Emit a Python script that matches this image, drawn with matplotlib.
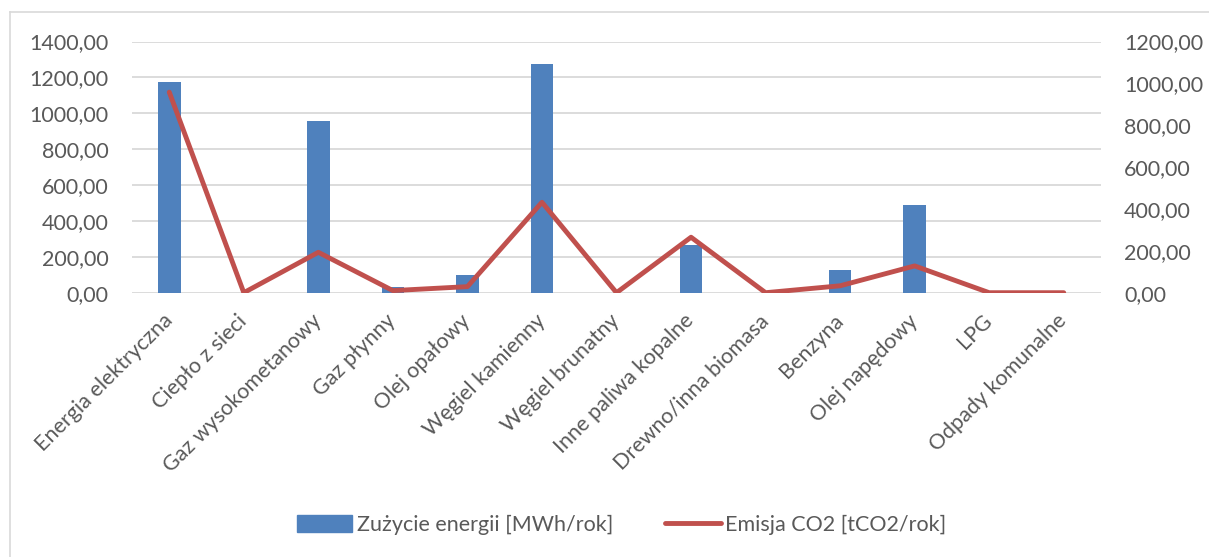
import numpy as np
import matplotlib
matplotlib.use("Agg")
import matplotlib.pyplot as plt
from matplotlib.ticker import FuncFormatter, MultipleLocator
from matplotlib.lines import Line2D

plt.rcParams['font.family'] = ['Lato', 'DejaVu Sans']

# Data
categories = ["Energia elektryczna", "Ciepło z sieci", "Gaz wysokometanowy", "Gaz płynny",
              "Olej opałowy", "Węgiel kamienny", "Węgiel brunatny", "Inne paliwa kopalne",
              "Drewno/inna biomasa", "Benzyna", "Olej napędowy", "LPG", "Odpady komunalne"]
energy = [1176, 0, 958, 33, 97, 1275, 0, 266, 0, 125, 489, 0, 0]      # MWh/rok
emission = [958, 0, 193, 10, 29, 432, 0, 265, 0, 33, 128, 0, 0]      # tCO2/rok

bar_label = "Zużycie energii [MWh/rok]"
line_label = "Emisja CO2 [tCO2/rok]"

blue = "#4F81BD"
red = "#C0504D"
grid = "#D9D9D9"
txt = "#595959"
fs = 15.5

def comma(v, pos):
    return ("%.2f" % v).replace(".", ",")

fig = plt.figure(figsize=(12.09, 5.57), dpi=100)
ax = fig.add_axes([132/1209, 1-292.7/557, 969/1209, 251.2/557])
x = np.arange(len(categories))

ax.bar(x, energy, width=0.305, color=blue, zorder=2)
ax.set_xlim(-0.5, len(categories)-0.5)
ax.set_ylim(0, 1400)
ax.yaxis.set_major_locator(MultipleLocator(200))
ax.yaxis.set_major_formatter(FuncFormatter(comma))
ax.grid(axis='y', color=grid, linewidth=1.3, zorder=0)
ax.set_axisbelow(True)
ax.set_xticks(x)
ax.set_xticklabels(categories, rotation=45, ha='right', rotation_mode='anchor', va='center')
ax.tick_params(axis='both', length=0, labelsize=fs, labelcolor=txt)
ax.tick_params(axis='x', pad=18)
ax.tick_params(axis='y', pad=17)
for s in ax.spines.values():
    s.set_visible(False)

ax2 = ax.twinx()
ax2.plot(x, emission, color=red, linewidth=3.5, solid_capstyle='round', solid_joinstyle='round')
ax2.set_ylim(0, 1200)
ax2.yaxis.set_major_locator(MultipleLocator(200))
ax2.yaxis.set_major_formatter(FuncFormatter(comma))
ax2.tick_params(axis='y', length=0, labelsize=fs, labelcolor=txt, pad=16.5)
for s in ax2.spines.values():
    s.set_visible(False)

# legend
handles = [plt.Rectangle((0, 0), 1, 1, color=blue),
           Line2D([0], [0], color=red, linewidth=3.5, solid_capstyle='round')]
fig.legend(handles, [bar_label, line_label], loc='center', ncol=2, frameon=False,
           bbox_to_anchor=(0.514, 1-525/557), fontsize=fs, labelcolor=txt,
           handlelength=2.6, handleheight=0.8, handletextpad=0.2, columnspacing=2.4)

# chart area border
fig.add_artist(Line2D([10/1209, 1], [1-12/557, 1-12/557], color=grid, linewidth=1.2))
fig.add_artist(Line2D([10/1209, 10/1209], [0, 1-12/557], color=grid, linewidth=1.2))

fig.savefig("out.png", dpi=100)
